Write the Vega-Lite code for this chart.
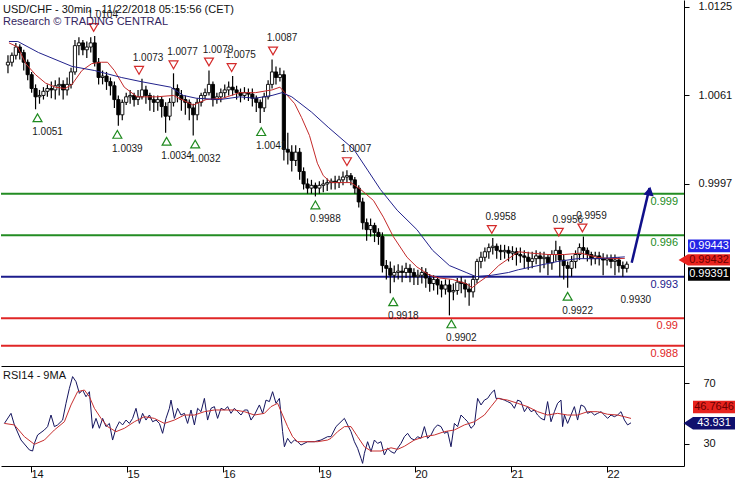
{
"$schema":"https://vega.github.io/schema/vega-lite/v6.json",
"padding":0,
"background":"white",
"spacing":0,
"config":{"view":{"stroke":null},"font":"Liberation Sans","axis":{"labelFont":"Liberation Sans","labelFontSize":11,"labelColor":"#111","domainColor":"#000","tickColor":"#000","grid":false,"title":null}},
"datasets":{
"bars":[
{"t":1,"o":1.0083,"h":1.0090,"l":1.0077,"c":1.0085},{"t":3,"o":1.0085,"h":1.0092,"l":1.0082,"c":1.0090},{"t":5,"o":1.0090,"h":1.0099,"l":1.0087,"c":1.0096},{"t":7,"o":1.0096,"h":1.0098,"l":1.0087,"c":1.0092},{"t":9,"o":1.0092,"h":1.0094,"l":1.0079,"c":1.0085},{"t":11,"o":1.0085,"h":1.0087,"l":1.0072,"c":1.0076},{"t":13,"o":1.0076,"h":1.0078,"l":1.0063,"c":1.0066},{"t":15,"o":1.0066,"h":1.0069,"l":1.0051,"c":1.0060},{"t":17,"o":1.0060,"h":1.0065,"l":1.0055,"c":1.0061},{"t":19,"o":1.0061,"h":1.0067,"l":1.0058,"c":1.0064},
{"t":21,"o":1.0064,"h":1.0069,"l":1.0060,"c":1.0066},{"t":23,"o":1.0066,"h":1.0071,"l":1.0059,"c":1.0065},{"t":25,"o":1.0065,"h":1.0072,"l":1.0058,"c":1.0068},{"t":27,"o":1.0068,"h":1.0074,"l":1.0061,"c":1.0069},{"t":29,"o":1.0069,"h":1.0072,"l":1.0058,"c":1.0065},{"t":31,"o":1.0065,"h":1.0074,"l":1.0061,"c":1.0069},{"t":33,"o":1.0069,"h":1.0081,"l":1.0066,"c":1.0078},{"t":35,"o":1.0078,"h":1.0101,"l":1.0076,"c":1.0097},{"t":37,"o":1.0097,"h":1.0103,"l":1.0090,"c":1.0099},{"t":39,"o":1.0099,"h":1.0101,"l":1.0090,"c":1.0094},
{"t":41,"o":1.0094,"h":1.0100,"l":1.0088,"c":1.0096},{"t":43,"o":1.0096,"h":1.0103,"l":1.0092,"c":1.0099},{"t":45,"o":1.0099,"h":1.0104,"l":1.0082,"c":1.0085},{"t":47,"o":1.0085,"h":1.0088,"l":1.0069,"c":1.0074},{"t":49,"o":1.0074,"h":1.0079,"l":1.0069,"c":1.0075},{"t":51,"o":1.0075,"h":1.0078,"l":1.0065,"c":1.0071},{"t":53,"o":1.0071,"h":1.0074,"l":1.0061,"c":1.0068},{"t":55,"o":1.0068,"h":1.0071,"l":1.0052,"c":1.0058},{"t":57,"o":1.0058,"h":1.0061,"l":1.0039,"c":1.0047},{"t":59,"o":1.0047,"h":1.0058,"l":1.0043,"c":1.0056},
{"t":61,"o":1.0056,"h":1.0063,"l":1.0054,"c":1.0060},{"t":63,"o":1.0060,"h":1.0065,"l":1.0055,"c":1.0061},{"t":65,"o":1.0061,"h":1.0063,"l":1.0053,"c":1.0058},{"t":67,"o":1.0058,"h":1.0065,"l":1.0054,"c":1.0060},{"t":69,"o":1.0060,"h":1.0073,"l":1.0058,"c":1.0065},{"t":71,"o":1.0065,"h":1.0068,"l":1.0055,"c":1.0061},{"t":73,"o":1.0061,"h":1.0063,"l":1.0050,"c":1.0058},{"t":75,"o":1.0058,"h":1.0061,"l":1.0049,"c":1.0056},{"t":77,"o":1.0056,"h":1.0061,"l":1.0050,"c":1.0058},{"t":79,"o":1.0058,"h":1.0060,"l":1.0045,"c":1.0053},
{"t":81,"o":1.0053,"h":1.0056,"l":1.0034,"c":1.0046},{"t":83,"o":1.0046,"h":1.0059,"l":1.0043,"c":1.0056},{"t":85,"o":1.0056,"h":1.0077,"l":1.0053,"c":1.0066},{"t":87,"o":1.0066,"h":1.0069,"l":1.0056,"c":1.0061},{"t":89,"o":1.0061,"h":1.0065,"l":1.0050,"c":1.0058},{"t":91,"o":1.0058,"h":1.0061,"l":1.0047,"c":1.0056},{"t":93,"o":1.0056,"h":1.0058,"l":1.0043,"c":1.0052},{"t":95,"o":1.0052,"h":1.0055,"l":1.0032,"c":1.0047},{"t":97,"o":1.0047,"h":1.0059,"l":1.0043,"c":1.0056},{"t":99,"o":1.0056,"h":1.0063,"l":1.0053,"c":1.0061},
{"t":101,"o":1.0061,"h":1.0066,"l":1.0058,"c":1.0063},{"t":103,"o":1.0063,"h":1.0079,"l":1.0061,"c":1.0069},{"t":105,"o":1.0069,"h":1.0071,"l":1.0053,"c":1.0058},{"t":107,"o":1.0058,"h":1.0063,"l":1.0055,"c":1.0060},{"t":109,"o":1.0060,"h":1.0066,"l":1.0056,"c":1.0063},{"t":111,"o":1.0063,"h":1.0069,"l":1.0059,"c":1.0065},{"t":113,"o":1.0065,"h":1.0071,"l":1.0061,"c":1.0067},{"t":115,"o":1.0067,"h":1.0075,"l":1.0061,"c":1.0065},{"t":117,"o":1.0065,"h":1.0068,"l":1.0058,"c":1.0063},{"t":119,"o":1.0063,"h":1.0066,"l":1.0056,"c":1.0061},
{"t":121,"o":1.0061,"h":1.0067,"l":1.0058,"c":1.0063},{"t":123,"o":1.0063,"h":1.0066,"l":1.0057,"c":1.0062},{"t":125,"o":1.0062,"h":1.0066,"l":1.0053,"c":1.0059},{"t":127,"o":1.0059,"h":1.0061,"l":1.0049,"c":1.0056},{"t":129,"o":1.0056,"h":1.0058,"l":1.0041,"c":1.0052},{"t":131,"o":1.0052,"h":1.0063,"l":1.0049,"c":1.0060},{"t":133,"o":1.0060,"h":1.0072,"l":1.0058,"c":1.0069},{"t":135,"o":1.0069,"h":1.0087,"l":1.0066,"c":1.0078},{"t":137,"o":1.0078,"h":1.0082,"l":1.0069,"c":1.0074},{"t":139,"o":1.0074,"h":1.0081,"l":1.0071,"c":1.0076},
{"t":141,"o":1.0076,"h":1.0079,"l":1.0014,"c":1.0022},{"t":143,"o":1.0022,"h":1.0034,"l":1.0011,"c":1.0020},{"t":145,"o":1.0020,"h":1.0025,"l":1.0006,"c":1.0014},{"t":147,"o":1.0014,"h":1.0025,"l":1.0010,"c":1.0020},{"t":149,"o":1.0020,"h":1.0023,"l":1.0000,"c":1.0006},{"t":151,"o":1.0006,"h":1.0009,"l":0.9993,"c":0.9997},{"t":153,"o":0.9997,"h":1.0001,"l":0.9990,"c":0.9994},{"t":155,"o":0.9994,"h":1.0000,"l":0.9990,"c":0.9996},{"t":157,"o":0.9996,"h":0.9998,"l":0.9988,"c":0.9994},{"t":159,"o":0.9994,"h":0.9999,"l":0.9990,"c":0.9996},
{"t":161,"o":0.9996,"h":1.0000,"l":0.9991,"c":0.9997},{"t":163,"o":0.9997,"h":1.0001,"l":0.9992,"c":0.9998},{"t":165,"o":0.9998,"h":1.0001,"l":0.9993,"c":0.9999},{"t":167,"o":0.9999,"h":1.0003,"l":0.9993,"c":0.9998},{"t":169,"o":0.9998,"h":1.0003,"l":0.9994,"c":1.0000},{"t":171,"o":1.0000,"h":1.0006,"l":0.9996,"c":1.0002},{"t":173,"o":1.0002,"h":1.0007,"l":0.9998,"c":1.0003},{"t":175,"o":1.0003,"h":1.0005,"l":0.9996,"c":1.0000},{"t":177,"o":1.0000,"h":1.0002,"l":0.9990,"c":0.9994},{"t":179,"o":0.9994,"h":0.9996,"l":0.9980,"c":0.9984},
{"t":181,"o":0.9984,"h":0.9987,"l":0.9964,"c":0.9969},{"t":183,"o":0.9969,"h":0.9972,"l":0.9956,"c":0.9964},{"t":185,"o":0.9964,"h":0.9972,"l":0.9959,"c":0.9967},{"t":187,"o":0.9967,"h":0.9969,"l":0.9955,"c":0.9962},{"t":189,"o":0.9962,"h":0.9965,"l":0.9953,"c":0.9959},{"t":191,"o":0.9959,"h":0.9962,"l":0.9933,"c":0.9938},{"t":193,"o":0.9938,"h":0.9942,"l":0.9928,"c":0.9936},{"t":195,"o":0.9936,"h":0.9941,"l":0.9918,"c":0.9931},{"t":197,"o":0.9931,"h":0.9938,"l":0.9926,"c":0.9933},{"t":199,"o":0.9933,"h":0.9939,"l":0.9928,"c":0.9934},
{"t":201,"o":0.9934,"h":0.9938,"l":0.9926,"c":0.9933},{"t":203,"o":0.9933,"h":0.9940,"l":0.9929,"c":0.9936},{"t":205,"o":0.9936,"h":0.9939,"l":0.9926,"c":0.9933},{"t":207,"o":0.9933,"h":0.9936,"l":0.9924,"c":0.9930},{"t":209,"o":0.9930,"h":0.9935,"l":0.9924,"c":0.9931},{"t":211,"o":0.9931,"h":0.9937,"l":0.9925,"c":0.9933},{"t":213,"o":0.9933,"h":0.9936,"l":0.9922,"c":0.9929},{"t":215,"o":0.9929,"h":0.9932,"l":0.9919,"c":0.9925},{"t":217,"o":0.9925,"h":0.9931,"l":0.9920,"c":0.9928},{"t":219,"o":0.9928,"h":0.9930,"l":0.9917,"c":0.9924},
{"t":221,"o":0.9924,"h":0.9927,"l":0.9915,"c":0.9921},{"t":223,"o":0.9921,"h":0.9928,"l":0.9917,"c":0.9924},{"t":225,"o":0.9924,"h":0.9928,"l":0.9902,"c":0.9919},{"t":227,"o":0.9919,"h":0.9925,"l":0.9913,"c":0.9920},{"t":229,"o":0.9920,"h":0.9929,"l":0.9917,"c":0.9926},{"t":231,"o":0.9926,"h":0.9930,"l":0.9918,"c":0.9925},{"t":233,"o":0.9925,"h":0.9928,"l":0.9915,"c":0.9921},{"t":235,"o":0.9921,"h":0.9925,"l":0.9909,"c":0.9919},{"t":237,"o":0.9919,"h":0.9931,"l":0.9915,"c":0.9928},{"t":239,"o":0.9928,"h":0.9943,"l":0.9925,"c":0.9941},
{"t":241,"o":0.9941,"h":0.9948,"l":0.9936,"c":0.9944},{"t":243,"o":0.9944,"h":0.9951,"l":0.9941,"c":0.9948},{"t":245,"o":0.9948,"h":0.9954,"l":0.9943,"c":0.9951},{"t":247,"o":0.9951,"h":0.9958,"l":0.9946,"c":0.9952},{"t":249,"o":0.9952,"h":0.9954,"l":0.9943,"c":0.9949},{"t":251,"o":0.9949,"h":0.9953,"l":0.9942,"c":0.9948},{"t":253,"o":0.9948,"h":0.9953,"l":0.9943,"c":0.9949},{"t":255,"o":0.9949,"h":0.9952,"l":0.9941,"c":0.9947},{"t":257,"o":0.9947,"h":0.9952,"l":0.9942,"c":0.9948},{"t":259,"o":0.9948,"h":0.9951,"l":0.9938,"c":0.9946},
{"t":261,"o":0.9946,"h":0.9951,"l":0.9940,"c":0.9945},{"t":263,"o":0.9945,"h":0.9949,"l":0.9936,"c":0.9944},{"t":265,"o":0.9944,"h":0.9948,"l":0.9935,"c":0.9941},{"t":267,"o":0.9941,"h":0.9948,"l":0.9936,"c":0.9943},{"t":269,"o":0.9943,"h":0.9949,"l":0.9939,"c":0.9945},{"t":271,"o":0.9945,"h":0.9948,"l":0.9933,"c":0.9943},{"t":273,"o":0.9943,"h":0.9948,"l":0.9936,"c":0.9944},{"t":275,"o":0.9944,"h":0.9946,"l":0.9931,"c":0.9940},{"t":277,"o":0.9940,"h":0.9949,"l":0.9935,"c":0.9946},{"t":279,"o":0.9946,"h":0.9956,"l":0.9941,"c":0.9949},
{"t":281,"o":0.9949,"h":0.9952,"l":0.9930,"c":0.9942},{"t":283,"o":0.9942,"h":0.9946,"l":0.9928,"c":0.9938},{"t":285,"o":0.9938,"h":0.9941,"l":0.9922,"c":0.9936},{"t":287,"o":0.9936,"h":0.9945,"l":0.9930,"c":0.9941},{"t":289,"o":0.9941,"h":0.9949,"l":0.9936,"c":0.9946},{"t":291,"o":0.9946,"h":0.9954,"l":0.9942,"c":0.9951},{"t":293,"o":0.9951,"h":0.9959,"l":0.9943,"c":0.9949},{"t":295,"o":0.9949,"h":0.9951,"l":0.9941,"c":0.9946},{"t":297,"o":0.9946,"h":0.9948,"l":0.9938,"c":0.9943},{"t":299,"o":0.9943,"h":0.9948,"l":0.9939,"c":0.9945},
{"t":301,"o":0.9945,"h":0.9948,"l":0.9938,"c":0.9943},{"t":303,"o":0.9943,"h":0.9947,"l":0.9931,"c":0.9942},{"t":305,"o":0.9942,"h":0.9946,"l":0.9938,"c":0.9943},{"t":307,"o":0.9943,"h":0.9946,"l":0.9936,"c":0.9941},{"t":309,"o":0.9941,"h":0.9946,"l":0.9931,"c":0.9942},{"t":311,"o":0.9942,"h":0.9944,"l":0.9933,"c":0.9938},{"t":313,"o":0.9938,"h":0.9941,"l":0.9930,"c":0.9936},{"t":315,"o":0.9936,"h":0.9941,"l":0.9933,"c":0.9939}
],
"maFast":[
{"t":1.5,"p":1.0099},{"t":6,"p":1.0096},{"t":10,"p":1.0084},{"t":15,"p":1.0076},{"t":20,"p":1.0070},{"t":25,"p":1.0067},{"t":30,"p":1.0066},{"t":33.5,"p":1.0069},{"t":38.5,"p":1.0079},{"t":43.5,"p":1.0084},{"t":48.5,"p":1.0085},{"t":51.5,"p":1.0085},{"t":55,"p":1.0079},{"t":60,"p":1.0067},{"t":66.5,"p":1.0060},{"t":76.5,"p":1.0060},{"t":85,"p":1.0061},{"t":95,"p":1.0054},{"t":101.5,"p":1.0058},{"t":110,"p":1.0059},{"t":118.5,"p":1.0063},{"t":126.5,"p":1.0063},{"t":135,"p":1.0065},{"t":139,"p":1.0067},{"t":141.5,"p":1.0063},{"t":146.5,"p":1.0055},{"t":150,"p":1.0045},{"t":154,"p":1.0032},{"t":158,"p":1.0012},{"t":161,"p":1.0003},{"t":165,"p":0.9998},{"t":175,"p":0.9998},{"t":180,"p":0.9993},{"t":186.5,"p":0.9985},{"t":191.5,"p":0.9973},{"t":196.5,"p":0.9959},{"t":203.5,"p":0.9944},{"t":208.5,"p":0.9937},{"t":215,"p":0.9931},{"t":220,"p":0.9929},{"t":226.5,"p":0.9928},{"t":233.5,"p":0.9925},{"t":236.5,"p":0.9922},{"t":240,"p":0.9926},{"t":245,"p":0.9931},{"t":250,"p":0.9938},{"t":255,"p":0.9943},{"t":260,"p":0.9948},{"t":266.5,"p":0.9947},{"t":275,"p":0.9946},{"t":283.5,"p":0.9946},{"t":291.5,"p":0.9947},{"t":300,"p":0.9944},{"t":306.5,"p":0.9943},{"t":314,"p":0.99432}
],
"maSlow":[
{"t":1.5,"p":1.0100},{"t":6,"p":1.0100},{"t":16.5,"p":1.0092},{"t":33.5,"p":1.0082},{"t":45,"p":1.0079},{"t":58.5,"p":1.0074},{"t":68.5,"p":1.0071},{"t":83.5,"p":1.0067},{"t":90,"p":1.0061},{"t":96.5,"p":1.0059},{"t":108.5,"p":1.0058},{"t":118.5,"p":1.0060},{"t":126.5,"p":1.0059},{"t":135,"p":1.0061},{"t":140,"p":1.0063},{"t":145,"p":1.0060},{"t":155,"p":1.0049},{"t":163.5,"p":1.0038},{"t":170,"p":1.0030},{"t":176.5,"p":1.0022},{"t":183.5,"p":1.0007},{"t":190,"p":0.9993},{"t":198.5,"p":0.9978},{"t":208.5,"p":0.9964},{"t":216.5,"p":0.9949},{"t":225,"p":0.9938},{"t":233.5,"p":0.9933},{"t":238.5,"p":0.9930},{"t":246.5,"p":0.9931},{"t":255,"p":0.9933},{"t":260,"p":0.9935},{"t":270,"p":0.9938},{"t":280,"p":0.9941},{"t":290,"p":0.9943},{"t":300,"p":0.9943},{"t":314,"p":0.99443}
],
"levels":[
{"lvl":0.999,"grp":"resistance"},{"lvl":0.996,"grp":"resistance"},{"lvl":0.993,"grp":"pivot"},{"lvl":0.990,"grp":"support"},{"lvl":0.988,"grp":"support"}
],
"ann":[
{"t":44.5,"p":1.0104,"kind":"hi","tri":true},{"t":67.5,"p":1.0073,"kind":"hi","tri":true},{"t":85,"p":1.0077,"kind":"hi","tri":true},{"t":103,"p":1.0079,"kind":"hi","tri":true},{"t":114.5,"p":1.0075,"kind":"hi","tri":true},{"t":135.5,"p":1.0087,"kind":"hi","tri":true},{"t":173,"p":1.0007,"kind":"hi","tri":true},{"t":246.5,"p":0.9958,"kind":"hi","tri":true},{"t":280.5,"p":0.9956,"kind":"hi","tri":true},{"t":292.5,"p":0.9959,"kind":"hi","tri":true},
{"t":16,"p":1.0051,"kind":"lo","tri":true},{"t":56.5,"p":1.0039,"kind":"lo","tri":true},{"t":81.5,"p":1.0034,"kind":"lo","tri":true},{"t":96,"p":1.0032,"kind":"lo","tri":true},{"t":129.5,"p":1.0041,"kind":"lo","tri":true},{"t":157,"p":0.9988,"kind":"lo","tri":true},{"t":196.5,"p":0.9918,"kind":"lo","tri":true},{"t":226,"p":0.9902,"kind":"lo","tri":true},{"t":285,"p":0.9922,"kind":"lo","tri":true},{"t":314.5,"p":0.9930,"kind":"lo","tri":false}
],
"arrow":[{"t":317.5,"p":0.9940,"pt":"start"},{"t":326.5,"p":0.9994,"pt":"end"}],
"tags":[{"name":"ma50","v":0.99443},{"name":"ma20","v":0.99432},{"name":"close","v":0.99391}],
"rsi":[
{"t":1.7,"v":43.5},{"t":5,"v":50.1},{"t":6.7,"v":42.5},{"t":10,"v":32.6},{"t":14.2,"v":26.1},{"t":15.8,"v":25.4},{"t":16.7,"v":30.4},{"t":18.3,"v":35.9},{"t":21.7,"v":39.2},{"t":23.3,"v":41.4},{"t":25,"v":49.0},{"t":26.7,"v":41.4},{"t":28.3,"v":42.5},{"t":30.8,"v":45.7},{"t":32.5,"v":56.7},{"t":34.2,"v":66.5},{"t":35.8,"v":74.2},{"t":37.5,"v":70.9},{"t":39.2,"v":63.2},{"t":40.8,"v":65.4},{"t":42.5,"v":61.0},{"t":44.2,"v":64.3},{"t":45.8,"v":40.3},{"t":47.5,"v":46.8},{"t":49.2,"v":40.3},{"t":50.8,"v":46.8},{"t":52.5,"v":41.4},{"t":54.2,"v":43.5},{"t":55.8,"v":32.6},{"t":57.5,"v":40.3},{"t":59.2,"v":44.6},{"t":60.8,"v":42.5},{"t":62.5,"v":45.7},{"t":64.2,"v":43.5},{"t":65.8,"v":46.8},{"t":67.5,"v":53.4},{"t":69.2,"v":43.5},{"t":70.8,"v":50.1},{"t":72.5,"v":45.7},{"t":74.2,"v":49.0},{"t":75.8,"v":44.6},{"t":77.5,"v":45.7},{"t":79.2,"v":43.5},{"t":80.8,"v":37.0},{"t":82.5,"v":46.8},{"t":84.2,"v":53.4},{"t":85,"v":58.8},{"t":86.7,"v":46.8},{"t":88.3,"v":53.4},{"t":90,"v":49.0},{"t":91.7,"v":50.1},{"t":93.3,"v":43.5},{"t":95,"v":52.3},{"t":96.7,"v":42.5},{"t":98.3,"v":53.4},{"t":100,"v":51.2},{"t":101.7,"v":59.9},{"t":103.3,"v":45.7},{"t":105,"v":53.4},{"t":106.7,"v":54.5},{"t":108.3,"v":46.8},{"t":110,"v":53.4},{"t":111.7,"v":52.3},{"t":113.3,"v":54.5},{"t":115,"v":50.1},{"t":116.7,"v":53.4},{"t":118.3,"v":51.2},{"t":120,"v":49.0},{"t":121.7,"v":52.3},{"t":123.3,"v":52.3},{"t":125,"v":45.7},{"t":126.7,"v":49.0},{"t":129.2,"v":55.6},{"t":130.8,"v":50.1},{"t":132.5,"v":58.8},{"t":134.2,"v":57.8},{"t":135.8,"v":64.3},{"t":137.5,"v":56.7},{"t":139.2,"v":59.9},{"t":140.8,"v":38.1},{"t":141.7,"v":28.2},{"t":143.3,"v":33.7},{"t":145,"v":30.4},{"t":146.7,"v":32.6},{"t":148.3,"v":31.5},{"t":150,"v":29.3},{"t":153.3,"v":31.5},{"t":156.7,"v":31.5},{"t":160,"v":32.6},{"t":163.3,"v":34.8},{"t":165,"v":34.8},{"t":167.5,"v":41.4},{"t":170,"v":44.6},{"t":171.7,"v":46.8},{"t":173.3,"v":42.5},{"t":175,"v":38.1},{"t":176.7,"v":31.5},{"t":178.3,"v":27.2},{"t":180,"v":20.6},{"t":180.8,"v":17.3},{"t":181.7,"v":23.9},{"t":183.3,"v":31.5},{"t":185,"v":25.0},{"t":186.7,"v":32.6},{"t":188.3,"v":30.4},{"t":190,"v":31.5},{"t":191.7,"v":22.8},{"t":193.3,"v":27.2},{"t":195,"v":25.0},{"t":196.7,"v":23.9},{"t":198.3,"v":27.2},{"t":200,"v":30.4},{"t":201.7,"v":34.8},{"t":203.3,"v":37.0},{"t":205,"v":33.7},{"t":206.7,"v":32.6},{"t":208.3,"v":34.8},{"t":210,"v":33.7},{"t":211.7,"v":41.4},{"t":213.3,"v":33.7},{"t":215,"v":35.9},{"t":216.7,"v":40.3},{"t":218.3,"v":42.5},{"t":220,"v":41.4},{"t":221.7,"v":37.0},{"t":223.3,"v":38.1},{"t":225,"v":28.2},{"t":226.7,"v":43.5},{"t":228.3,"v":41.4},{"t":230,"v":49.0},{"t":231.7,"v":46.8},{"t":233.3,"v":44.6},{"t":235,"v":40.3},{"t":236.7,"v":42.5},{"t":238.3,"v":59.9},{"t":240,"v":55.6},{"t":241.7,"v":58.8},{"t":243.3,"v":59.9},{"t":245,"v":63.2},{"t":246.7,"v":65.4},{"t":247.5,"v":59.9},{"t":249.2,"v":59.9},{"t":251.7,"v":58.8},{"t":253.3,"v":57.8},{"t":255,"v":56.7},{"t":256.7,"v":53.4},{"t":258.3,"v":58.8},{"t":260,"v":57.8},{"t":261.7,"v":51.2},{"t":263.3,"v":54.5},{"t":265,"v":51.2},{"t":266.7,"v":52.3},{"t":268.3,"v":49.0},{"t":270,"v":46.8},{"t":271.7,"v":45.7},{"t":273.3,"v":57.8},{"t":275,"v":44.6},{"t":276.7,"v":51.2},{"t":278.3,"v":56.7},{"t":280,"v":58.8},{"t":280.8,"v":41.4},{"t":281.7,"v":49.0},{"t":283.3,"v":43.5},{"t":285,"v":49.0},{"t":286.7,"v":54.5},{"t":288.3,"v":45.7},{"t":290,"v":55.6},{"t":291.7,"v":54.5},{"t":293.3,"v":50.1},{"t":295,"v":51.2},{"t":296.7,"v":49.0},{"t":298.3,"v":50.1},{"t":300,"v":51.2},{"t":301.7,"v":49.0},{"t":303.3,"v":46.8},{"t":305,"v":49.0},{"t":306.7,"v":47.9},{"t":308.3,"v":49.0},{"t":310,"v":51.2},{"t":311.7,"v":45.7},{"t":313.3,"v":42.5},{"t":315,"v":43.9}
],
"rsiMa":[
{"t":1.7,"v":43.5},{"t":6.7,"v":42.5},{"t":11.7,"v":34.8},{"t":16.7,"v":29.8},{"t":21.7,"v":32.6},{"t":26.7,"v":39.2},{"t":31.7,"v":44.6},{"t":35,"v":55.6},{"t":38.3,"v":64.3},{"t":41.7,"v":65.4},{"t":44.2,"v":61.0},{"t":46.7,"v":53.4},{"t":50,"v":46.8},{"t":53.3,"v":41.4},{"t":57.5,"v":38.1},{"t":61.7,"v":40.3},{"t":66.7,"v":44.6},{"t":71.7,"v":47.9},{"t":76.7,"v":46.8},{"t":81.7,"v":43.5},{"t":86.7,"v":45.7},{"t":91.7,"v":49.0},{"t":96.7,"v":49.0},{"t":101.7,"v":51.2},{"t":106.7,"v":52.3},{"t":111.7,"v":52.3},{"t":116.7,"v":52.3},{"t":121.7,"v":51.2},{"t":126.7,"v":49.0},{"t":131.7,"v":50.1},{"t":135,"v":54.5},{"t":138.3,"v":56.7},{"t":140.8,"v":49.0},{"t":143.3,"v":41.4},{"t":145.8,"v":34.8},{"t":148.3,"v":31.5},{"t":153.3,"v":31.5},{"t":158.3,"v":31.5},{"t":163.3,"v":32.6},{"t":165,"v":33.7},{"t":168.3,"v":38.1},{"t":171.7,"v":41.4},{"t":175,"v":41.4},{"t":178.3,"v":34.8},{"t":181.7,"v":28.2},{"t":185,"v":25.4},{"t":190,"v":25.4},{"t":195,"v":27.5},{"t":198.3,"v":26.5},{"t":201.7,"v":28.5},{"t":206.7,"v":32.6},{"t":211.7,"v":34.8},{"t":216.7,"v":35.9},{"t":221.7,"v":38.1},{"t":226.7,"v":39.2},{"t":231.7,"v":42.5},{"t":236.7,"v":44.6},{"t":241.7,"v":49.0},{"t":245,"v":54.5},{"t":248.3,"v":59.9},{"t":253.3,"v":58.8},{"t":258.3,"v":56.7},{"t":263.3,"v":54.5},{"t":268.3,"v":51.2},{"t":273.3,"v":49.0},{"t":278.3,"v":50.1},{"t":283.3,"v":49.0},{"t":288.3,"v":49.0},{"t":293.3,"v":51.2},{"t":298.3,"v":51.2},{"t":303.3,"v":49.5},{"t":308.3,"v":49.0},{"t":311.7,"v":47.9},{"t":315,"v":46.7646}
],
"rsiTags":[{"name":"ma","v":46.7646},{"name":"rsi","v":43.931}]
},
"vconcat":[
{
"width":683,"height":366,
"title":{"text":"USD/CHF - 30min - 11/22/2018 05:15:56 (CET)","subtitle":"Research © TRADING CENTRAL","anchor":"start","frame":"group","orient":"top","offset":-27,"dx":2,"fontSize":11,"fontWeight":"normal","font":"Liberation Sans","color":"#111","subtitleFont":"Liberation Sans","subtitleFontSize":11,"subtitleColor":"#33245e","subtitlePadding":1},
"layer":[
{"data":{"name":"levels"},"mark":{"type":"rule","strokeWidth":2},
 "encoding":{"y":{"field":"lvl","type":"quantitative","scale":{"domain":[0.98654,1.0130],"nice":false,"zero":false},"axis":{"orient":"right","values":[1.0125,1.0061,0.9997],"format":".4f","tickSize":5,"labelPadding":9}},
 "color":{"field":"grp","type":"nominal","scale":{"domain":["resistance","pivot","support"],"range":["#238c23","#1c1c8c","#e02626"]},"legend":null}}},
{"data":{"name":"levels"},"mark":{"type":"text","align":"right","baseline":"middle","dx":-1,"dy":8,"fontSize":11},
 "encoding":{"x":{"datum":341.5,"type":"quantitative"},"y":{"field":"lvl","type":"quantitative"},"text":{"field":"lvl","type":"quantitative","format":".3~f"},
 "color":{"field":"grp","type":"nominal","legend":null}}},
{"data":{"name":"bars"},"mark":{"type":"rule","color":"#000","strokeWidth":1.2},
 "encoding":{"x":{"field":"t","type":"quantitative","scale":{"domain":[0,341.5],"nice":false,"zero":false},"axis":{"orient":"bottom","labels":false,"ticks":false,"domain":true}},
 "y":{"field":"l","type":"quantitative"},"y2":{"field":"h"}}},
{"data":{"name":"bars"},"mark":{"type":"bar","width":3.2,"stroke":"#000","strokeWidth":0.9},
 "encoding":{"x":{"field":"t","type":"quantitative"},"y":{"field":"o","type":"quantitative"},"y2":{"field":"c"},
 "fill":{"condition":{"test":"datum.c > datum.o","value":"white"},"value":"black"}}},
{"data":{"name":"maFast"},"mark":{"type":"line","color":"#c42a2a","strokeWidth":1},
 "encoding":{"x":{"field":"t","type":"quantitative"},"y":{"field":"p","type":"quantitative"}}},
{"data":{"name":"maSlow"},"mark":{"type":"line","color":"#22228c","strokeWidth":1},
 "encoding":{"x":{"field":"t","type":"quantitative"},"y":{"field":"p","type":"quantitative"}}},
{"data":{"name":"ann"},"transform":[{"filter":"datum.kind == 'hi'"}],"mark":{"type":"point","shape":"triangle-down","filled":false,"color":"#d42a2a","strokeWidth":1.2,"size":80,"yOffset":-8.5,"opacity":1},
 "encoding":{"x":{"field":"t","type":"quantitative"},"y":{"field":"p","type":"quantitative"}}},
{"data":{"name":"ann"},"transform":[{"filter":"datum.kind == 'lo' && datum.tri"}],"mark":{"type":"point","shape":"triangle-up","filled":false,"color":"#1f8a1f","strokeWidth":1.2,"size":80,"yOffset":8.5,"opacity":1},
 "encoding":{"x":{"field":"t","type":"quantitative"},"y":{"field":"p","type":"quantitative"}}},
{"data":{"name":"ann"},"transform":[{"filter":"datum.kind == 'hi'"}],"mark":{"type":"text","dx":9,"dy":-21,"fontSize":10,"color":"#1a1a1a"},
 "encoding":{"x":{"field":"t","type":"quantitative"},"y":{"field":"p","type":"quantitative"},"text":{"field":"p","type":"quantitative","format":".4f"}}},
{"data":{"name":"ann"},"transform":[{"filter":"datum.kind == 'lo'"}],"mark":{"type":"text","dx":10,"dy":23,"fontSize":10,"color":"#1a1a1a"},
 "encoding":{"x":{"field":"t","type":"quantitative"},"y":{"field":"p","type":"quantitative"},"text":{"field":"p","type":"quantitative","format":".4f"}}},
{"data":{"name":"arrow"},"mark":{"type":"line","color":"#10108a","strokeWidth":2.5},
 "encoding":{"x":{"field":"t","type":"quantitative"},"y":{"field":"p","type":"quantitative"}}},
{"data":{"name":"arrow"},"transform":[{"filter":"datum.pt == 'end'"}],"mark":{"type":"point","shape":"triangle-up","filled":true,"color":"#10108a","size":110,"angle":11,"yOffset":3,"opacity":1},
 "encoding":{"x":{"field":"t","type":"quantitative"},"y":{"field":"p","type":"quantitative"}}},
{"data":{"name":"tags"},"transform":[{"filter":"datum.name == 'ma50'"}],"mark":{"type":"point","shape":"M-1,-0.3H1V0.3H-1Z","filled":true,"color":"#2424e6","size":1764,"xOffset":30,"yOffset":-11,"opacity":1},
 "encoding":{"x":{"datum":341.5,"type":"quantitative"},"y":{"field":"v","type":"quantitative"}}},
{"data":{"name":"tags"},"transform":[{"filter":"datum.name == 'ma50'"}],"mark":{"type":"text","dx":30,"dy":-11,"fontSize":11,"color":"white"},
 "encoding":{"x":{"datum":341.5,"type":"quantitative"},"y":{"field":"v","type":"quantitative"},"text":{"field":"v","type":"quantitative","format":".5f"}}},
{"data":{"name":"tags"},"transform":[{"filter":"datum.name == 'ma20'"}],"mark":{"type":"point","shape":"M-1.45,0L-1,-0.27H1V0.27H-1Z","filled":true,"color":"#e8231e","size":1764,"xOffset":30,"yOffset":1.5,"opacity":1},
 "encoding":{"x":{"datum":341.5,"type":"quantitative"},"y":{"field":"v","type":"quantitative"}}},
{"data":{"name":"tags"},"transform":[{"filter":"datum.name == 'ma20'"}],"mark":{"type":"text","dx":30,"dy":1.5,"fontSize":11,"color":"#6a0000"},
 "encoding":{"x":{"datum":341.5,"type":"quantitative"},"y":{"field":"v","type":"quantitative"},"text":{"field":"v","type":"quantitative","format":".5f"}}},
{"data":{"name":"tags"},"transform":[{"filter":"datum.name == 'close'"}],"mark":{"type":"point","shape":"M-1,-0.32H1V0.32H-1Z","filled":true,"color":"#000","size":1764,"xOffset":30,"yOffset":10,"opacity":1},
 "encoding":{"x":{"datum":341.5,"type":"quantitative"},"y":{"field":"v","type":"quantitative"}}},
{"data":{"name":"tags"},"transform":[{"filter":"datum.name == 'close'"}],"mark":{"type":"text","dx":30,"dy":10,"fontSize":11,"color":"white"},
 "encoding":{"x":{"datum":341.5,"type":"quantitative"},"y":{"field":"v","type":"quantitative"},"text":{"field":"v","type":"quantitative","format":".5f"}}}
]
},
{
"width":683,"height":100,
"title":{"text":"RSI14 - 9MA","anchor":"start","frame":"group","orient":"top","offset":-15,"dx":2,"fontSize":11,"fontWeight":"normal","font":"Liberation Sans","color":"#111"},
"layer":[
{"data":{"name":"rsi"},"mark":{"type":"line","color":"#14145e","strokeWidth":1},
 "encoding":{"x":{"field":"t","type":"quantitative","scale":{"domain":[0,341.5],"nice":false,"zero":false},
   "axis":{"orient":"bottom","values":[15,63,111,159,207,255,303],"labelExpr":"datum.value == 15 ? '14' : datum.value == 63 ? '15' : datum.value == 111 ? '16' : datum.value == 159 ? '19' : datum.value == 207 ? '20' : datum.value == 255 ? '21' : '22'","tickSize":6,"labelAlign":"left","labelBaseline":"top","labelDx":3,"labelPadding":-4,"labelFontSize":11}},
 "y":{"field":"v","type":"quantitative","scale":{"domain":[15.57,81.15],"nice":false,"zero":false},"axis":{"orient":"right","values":[30,70],"tickSize":5,"labelPadding":14}}}},
{"data":{"name":"rsiMa"},"mark":{"type":"line","color":"#c83030","strokeWidth":1},
 "encoding":{"x":{"field":"t","type":"quantitative"},"y":{"field":"v","type":"quantitative"}}},
{"data":{"name":"rsiTags"},"transform":[{"filter":"datum.name == 'ma'"}],"mark":{"type":"point","shape":"M-1,-0.3H1V0.3H-1Z","filled":true,"color":"#e8231e","size":1764,"xOffset":30,"yOffset":-11.5,"opacity":1},
 "encoding":{"x":{"datum":341.5,"type":"quantitative"},"y":{"field":"v","type":"quantitative"}}},
{"data":{"name":"rsiTags"},"transform":[{"filter":"datum.name == 'ma'"}],"mark":{"type":"text","dx":30,"dy":-11.5,"fontSize":11,"color":"#6a0000"},
 "encoding":{"x":{"datum":341.5,"type":"quantitative"},"y":{"field":"v","type":"quantitative"},"text":{"field":"v","type":"quantitative","format":".4f"}}},
{"data":{"name":"rsiTags"},"transform":[{"filter":"datum.name == 'rsi'"}],"mark":{"type":"point","shape":"M-1.45,0L-1,-0.3H1V0.3H-1Z","filled":true,"color":"#10106e","size":1764,"xOffset":30,"yOffset":0.5,"opacity":1},
 "encoding":{"x":{"datum":341.5,"type":"quantitative"},"y":{"field":"v","type":"quantitative"}}},
{"data":{"name":"rsiTags"},"transform":[{"filter":"datum.name == 'rsi'"}],"mark":{"type":"text","dx":30,"dy":0.5,"fontSize":11,"color":"white"},
 "encoding":{"x":{"datum":341.5,"type":"quantitative"},"y":{"field":"v","type":"quantitative"},"text":{"field":"v","type":"quantitative","format":".3f"}}}
]
}
]
}
